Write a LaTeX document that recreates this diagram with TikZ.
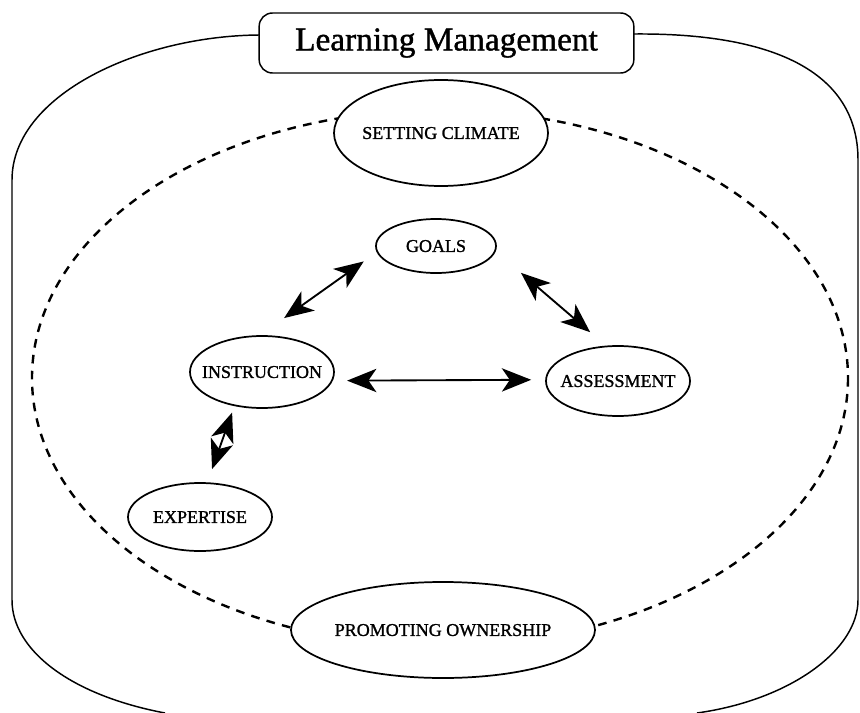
\documentclass[tikz,border=0pt]{standalone}
\usepackage{fontspec}
\setmainfont{Liberation Serif}
\newfontfamily\heavyserif{Liberation Serif}[FakeBold=1.2]
\usetikzlibrary{shapes.geometric,arrows.meta}

% label text with no size of its own, so the oval keeps its given size
\newcommand\ovaltext[1]{\makebox[0pt]{\raisebox{-0.33em}[0pt][0pt]{#1}}}

\begin{document}
\begin{tikzpicture}[x=0.75pt,y=-0.75pt,
  frameline/.style={line width=1.1pt},
  ring/.style={line width=1.8pt,dash pattern=on 6.5pt off 5.5pt},
  titlebox/.style={draw,fill=white,rounded corners=10pt,line width=1.1pt,
    minimum width=281pt,minimum height=45pt,inner sep=0pt,
    font=\heavyserif\fontsize{25}{30}\selectfont},
  oval/.style={ellipse,draw,fill=white,line width=1.3pt,inner sep=0pt,
    font=\heavyserif\fontsize{13.5}{16}\selectfont},
  link/.style={line width=1.4pt,>={Stealth[length=22pt,width=17.5pt,inset=6pt]},<->}]

\useasboundingbox (0,0) rectangle (860,713);

% outer frame, open at the bottom
\draw[frameline] (165,713) .. controls (70,695) and (12,650) .. (12,600)
  -- (12,180) .. controls (12,95) and (140,36) .. (259,35)
  -- (635,34) .. controls (770,33) and (858,70) .. (858,160)
  -- (858,600) .. controls (858,650) and (790,700) .. (697,713);

% dashed ring
\draw[ring] (440,378) ellipse [x radius=408, y radius=268];

% title
\node (title) [titlebox] at (446.5,43) {Learning Management};

% ovals
\node (climate) [oval,minimum width=160.5pt,minimum height=79.5pt] at (441,133) {\ovaltext{SETTING CLIMATE}};
\node (goals)   [oval,minimum width=90pt,minimum height=40.5pt] at (436,246) {\ovaltext{GOALS}};
\node (instr)   [oval,minimum width=108pt,minimum height=54pt] at (262,372) {\ovaltext{INSTRUCTION}};
\node (assess)  [oval,minimum width=108pt,minimum height=52.5pt] at (618,381) {\ovaltext{ASSESSMENT}};
\node (expert)  [oval,minimum width=108pt,minimum height=51pt] at (200,517) {\ovaltext{EXPERTISE}};
\node (owner)   [oval,minimum width=228pt,minimum height=72pt] at (443,630) {\ovaltext{PROMOTING OWNERSHIP}};

% two-way links
\draw[link,shorten <=22.1pt,shorten >=11.9pt] (instr.93) -- (goals.186.8);
\draw[link,shorten <=24.9pt,shorten >=15.5pt] (goals.-5.2) -- (assess.109.6);
\draw[link,shorten <=10.7pt,shorten >=10.5pt] (instr.-7.4) -- (assess.179.2);
\draw[link,shorten <=5.1pt,shorten >=10.5pt] (instr.231.5) -- (expert.78);

\end{tikzpicture}
\end{document}
